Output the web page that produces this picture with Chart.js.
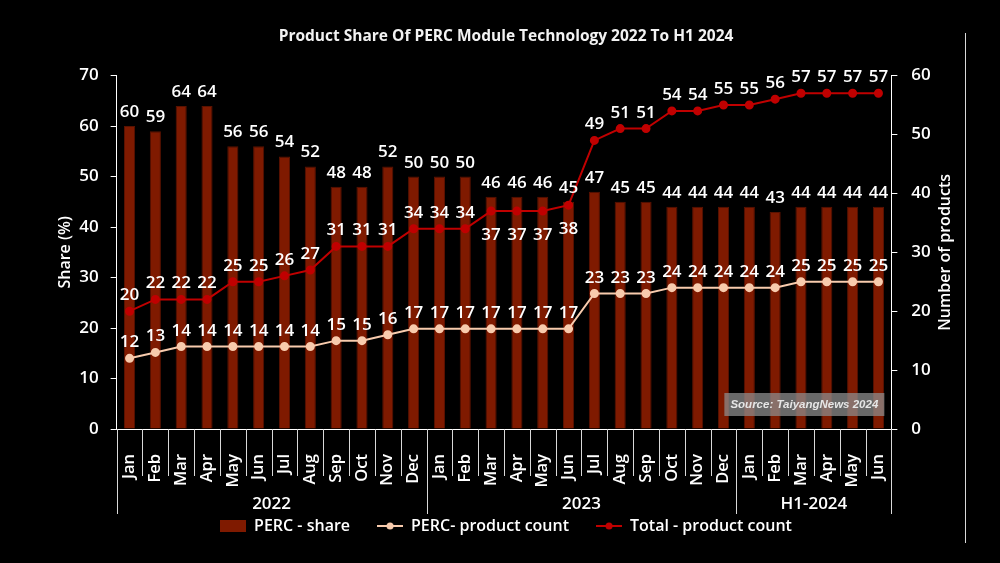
<!DOCTYPE html>
<html>
<head>
<meta charset="utf-8">
<script src="https://cdn.jsdelivr.net/npm/chart.js@4.4.1/dist/chart.umd.min.js"></script>
<style>
  html, body { margin: 0; background: #000; }
</style>
</head>
<body>
<canvas id="myChart" width="1000" height="563"></canvas>
<script>
const months = ['Jan', 'Feb', 'Mar', 'Apr', 'May', 'Jun', 'Jul', 'Aug', 'Sep', 'Oct', 'Nov', 'Dec'];
const labels = [...months, ...months, ...months.slice(0, 6)];
const groups = [
  { label: '2022', count: 12 },
  { label: '2023', count: 12 },
  { label: 'H1-2024', count: 6 }
];

const percShare = [60, 59, 64, 64, 56, 56, 54, 52, 48, 48, 52, 50,
                   50, 50, 46, 46, 46, 45, 47, 45, 45, 44, 44, 44,
                   44, 43, 44, 44, 44, 44];
const percCount = [12, 13, 14, 14, 14, 14, 14, 14, 15, 15, 16, 17,
                   17, 17, 17, 17, 17, 17, 23, 23, 23, 24, 24, 24,
                   24, 24, 25, 25, 25, 25];
const totalCount = [20, 22, 22, 22, 25, 25, 26, 27, 31, 31, 31, 34,
                    34, 34, 37, 37, 37, 38, 49, 51, 51, 54, 54, 55,
                    55, 56, 57, 57, 57, 57];

const BAR = '#7f1a00';
const PERC = '#f8cbad';
const TOTAL = '#c00000';
const FONT = '"Open Sans", "DejaVu Sans", sans-serif';

function legendIcon(kind, color) {
  const c = document.createElement('canvas');
  c.width = 26;
  c.height = 12;
  const g = c.getContext('2d');
  if (kind === 'box') {
    g.fillStyle = color;
    g.fillRect(0, 0, 26, 12);
  } else {
    g.strokeStyle = color;
    g.lineWidth = 2;
    g.beginPath();
    g.moveTo(0, 6);
    g.lineTo(26, 6);
    g.stroke();
    g.fillStyle = color;
    g.beginPath();
    g.arc(13, 6, 3.5, 0, Math.PI * 2);
    g.fill();
  }
  return c;
}
const icons = [legendIcon('box', BAR), legendIcon('line', PERC), legendIcon('line', TOTAL)];

// value labels above bars / points
const valueLabels = {
  id: 'valueLabels',
  afterDatasetsDraw(chart) {
    const ctx = chart.ctx;
    ctx.save();
    ctx.fillStyle = '#fff';
    ctx.font = '600 17px ' + FONT;
    ctx.textAlign = 'center';
    ctx.textBaseline = 'alphabetic';
    chart.data.datasets.forEach((ds, di) => {
      const meta = chart.getDatasetMeta(di);
      meta.data.forEach((el, i) => {
        let y;
        if (ds.type === 'bar') y = el.y - 9;
        else if (ds.below && ds.below.includes(i)) y = el.y + 29;
        else y = el.y - 11;
        ctx.fillText(ds.data[i], el.x, y);
      });
    });
    ctx.restore();
  }
};

// year groups under the month labels, axis titles, source box, frame line
const extras = {
  id: 'extras',
  afterDraw(chart) {
    const ctx = chart.ctx;
    const x = chart.scales.x;
    const area = chart.chartArea;
    const half = (x.getPixelForValue(1) - x.getPixelForValue(0)) / 2;
    const top = x.top;
    const edges = [0];
    groups.forEach(g => edges.push(edges[edges.length - 1] + g.count));

    ctx.save();
    ctx.strokeStyle = '#d9d9d9';
    ctx.lineWidth = 1;
    for (let i = 0; i <= labels.length; i++) {
      const px = Math.round(i < labels.length ? x.getPixelForValue(i) - half : x.getPixelForValue(i - 1) + half) + 0.5;
      const len = edges.includes(i) ? 85 : 47;
      ctx.beginPath();
      ctx.moveTo(px, top);
      ctx.lineTo(px, top + len);
      ctx.stroke();
    }

    ctx.fillStyle = '#fff';
    ctx.font = '600 17px ' + FONT;
    ctx.textAlign = 'center';
    groups.forEach((g, k) => {
      const a = x.getPixelForValue(edges[k]) - half;
      const b = x.getPixelForValue(edges[k + 1] - 1) + half;
      ctx.fillText(g.label, (a + b) / 2, top + 75);
    });

    // axis titles, both reading bottom to top
    ctx.font = '600 16px ' + FONT;
    ctx.textBaseline = 'middle';
    const mid = (area.top + area.bottom) / 2;
    [[chart.scales.y, chart.scales.y.left + 25], [chart.scales.y1, chart.scales.y1.right - 27]].forEach(([s, px]) => {
      ctx.save();
      ctx.translate(px, mid);
      ctx.rotate(-Math.PI / 2);
      ctx.fillText(s.options.title.text, 0, 0);
      ctx.restore();
    });

    // source note
    const bx = area.right - 167, by = area.bottom - 36;
    ctx.fillStyle = 'rgba(140,140,140,0.75)';
    ctx.fillRect(bx, by, 160, 23);
    ctx.fillStyle = '#e6e6e6';
    ctx.font = 'italic bold 11.5px "Liberation Sans", Arial, sans-serif';
    ctx.fillText('Source: TaiyangNews 2024', bx + 80, by + 12);

    // frame line on the right
    ctx.strokeStyle = '#d9d9d9';
    ctx.beginPath();
    ctx.moveTo(965.5, 33);
    ctx.lineTo(965.5, 543);
    ctx.stroke();
    ctx.restore();
  }
};

const data = {
  labels,
  datasets: [{
    type: 'bar',
    label: 'PERC - share',
    data: percShare,
    yAxisID: 'y',
    backgroundColor: BAR,
    borderColor: '#5a1200',
    borderWidth: 1,
    barPercentage: 0.43,
    categoryPercentage: 1,
    order: 1
  }, {
    type: 'line',
    label: 'PERC- product count',
    data: percCount,
    yAxisID: 'y1',
    borderColor: PERC,
    backgroundColor: PERC,
    borderWidth: 2,
    pointRadius: 3.5,
    pointHoverRadius: 3.5,
    order: 0
  }, {
    type: 'line',
    label: 'Total - product count',
    data: totalCount,
    yAxisID: 'y1',
    borderColor: TOTAL,
    backgroundColor: TOTAL,
    borderWidth: 2,
    pointRadius: 3.5,
    pointHoverRadius: 3.5,
    below: [14, 15, 16, 17],
    order: 0
  }]
};

Chart.defaults.font.family = FONT;
Chart.defaults.color = '#fff';

var myChart = new Chart(
  document.getElementById('myChart'), {
    data,
    plugins: [valueLabels, extras],
    options: {
      responsive: false,
      animation: false,
      layout: { padding: { left: 40, right: 28, top: 0, bottom: 19 } },
      plugins: {
        title: {
          display: true,
          text: 'Product Share Of PERC Module Technology 2022 To H1 2024',
          color: '#f2f2f2',
          font: { size: 15.5, weight: 'bold' },
          padding: { top: 27, bottom: 30 }
        },
        legend: {
          position: 'bottom',
          labels: {
            color: '#fff',
            font: { size: 16, weight: '600' },
            usePointStyle: true,
            pointStyleWidth: 26,
            boxHeight: 12,
            padding: 27,
            generateLabels: () => data.datasets.map((ds, i) => ({
              text: ds.label,
              pointStyle: icons[i],
              fontColor: '#fff',
              fillStyle: 'transparent',
              strokeStyle: 'transparent',
              lineWidth: 0,
              hidden: false,
              datasetIndex: i
            }))
          }
        },
        tooltip: { enabled: false }
      },
      scales: {
        x: {
          grid: { display: false },
          border: { display: true, color: '#fff', width: 1 },
          ticks: {
            color: '#fff',
            font: { size: 16.5, weight: '600' },
            minRotation: 90,
            maxRotation: 90,
            padding: 17,
            autoSkip: false
          },
          afterFit(scale) { scale.height = 62; }
        },
        y: {
          position: 'left',
          min: 0,
          max: 70,
          ticks: { stepSize: 10, color: '#fff', font: { size: 17, weight: '600' }, padding: 12 },
          grid: { drawOnChartArea: false, color: '#fff', tickLength: 6 },
          border: { color: '#fff' },
          title: { display: true, text: 'Share (%)', color: 'transparent', font: { size: 16, weight: '600' } }
        },
        y1: {
          position: 'right',
          min: 0,
          max: 60,
          ticks: { stepSize: 10, color: '#fff', font: { size: 17, weight: '600' }, padding: 14 },
          grid: { drawOnChartArea: false, color: '#fff', tickLength: 6 },
          border: { color: '#fff' },
          title: { display: true, text: 'Number of products', color: 'transparent', font: { size: 16, weight: '600' } }
        }
      }
    }
  });
</script>
</body>
</html>
